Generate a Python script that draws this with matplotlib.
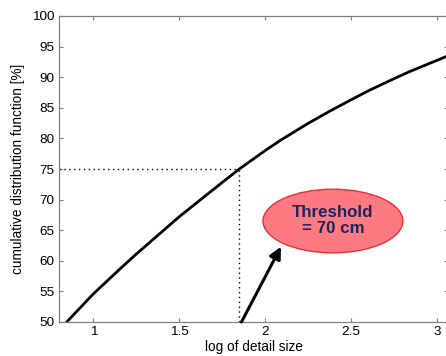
import matplotlib.pyplot as plt
from matplotlib.patches import Ellipse

plt.rcParams['font.family'] = ['Liberation Sans', 'DejaVu Sans']

# curve
log_size = [0.845, 1.0, 1.16, 1.25, 1.5, 1.75, 1.85, 2.0, 2.09, 2.25, 2.38,
            2.5, 2.61, 2.75, 2.84, 3.07]
cdf = [50.0, 54.6, 58.8, 61.1, 67.2, 72.8, 75.0, 78.0, 79.7, 82.45, 84.5,
       86.3, 87.9, 89.75, 90.9, 93.55]

thr_x = 1.85
thr_y = 75
xticks = [1, 1.5, 2, 2.5, 3]
yticks = list(range(50, 101, 5))

fig = plt.figure(figsize=(4.46, 3.56), dpi=100)
ax = fig.add_axes([59/446, 1-322/356, 389/446, 306/356])

ax.plot(log_size, cdf, color='black', lw=2.0, solid_capstyle='round', solid_joinstyle='round')
ax.plot([0.8, thr_x], [thr_y, thr_y], color='black', lw=1.0, ls=(0, (1, 2.5)))
ax.plot([thr_x, thr_x], [50, thr_y], color='black', lw=1.0, ls=(0, (1, 2.5)))

ell = Ellipse((2.395, 66.5), 0.814, 10.4, facecolor='#ff7a80', edgecolor='#e8303a', lw=1.0, zorder=3)
ax.add_patch(ell)
ax.text(2.395, 66.6, 'Threshold\n= 70 cm', ha='center', va='center', fontsize=12.2,
        fontweight='bold', color='#1c2461', linespacing=1.15, zorder=4)

ax.annotate('', xy=(2.10, 62.7), xytext=(1.855, 49.6),
            arrowprops=dict(arrowstyle='-|>,head_length=0.7,head_width=0.35', color='black', lw=2.2),
            annotation_clip=False, zorder=5)

ax.set_xlim(0.8, 3.065)
ax.set_ylim(50, 100)
ax.set_xticks(xticks)
ax.set_xticklabels(['1', '1.5', '2', '2.5', '3'])
ax.set_yticks(yticks)
ax.tick_params(direction='in', length=3, width=0.8, color='#808080', labelsize=9.7,
               top=True, right=True, pad=3)
for s in ax.spines.values():
    s.set_color('#808080')
    s.set_linewidth(0.9)

ax.set_xlabel('log of detail size', fontsize=9.8, labelpad=1)
ax.set_ylabel('cumulative distribution function [%]', fontsize=9.8, labelpad=5)

fig.savefig('out.png', dpi=100)
